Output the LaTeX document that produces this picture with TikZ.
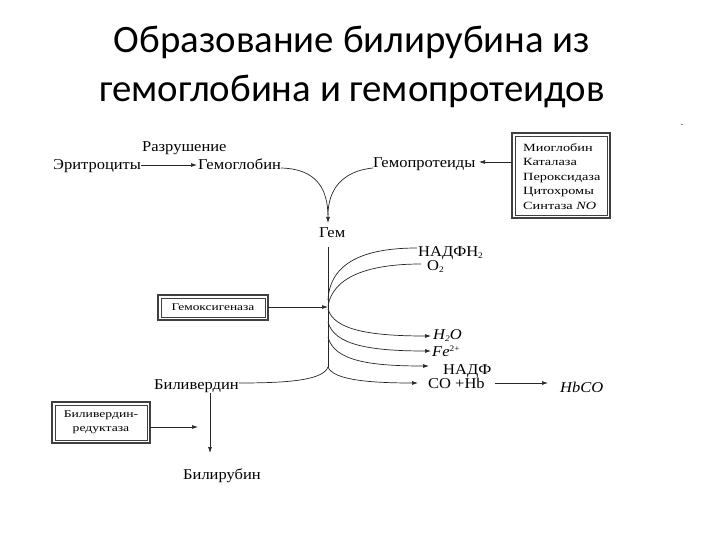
\documentclass[tikz,border=0pt]{standalone}
\usepackage{fontspec}
\setmainfont{Liberation Serif}[FakeStretch=1.1]
\newfontfamily\boxfont{Liberation Serif}[FakeStretch=1.3]
\newfontfamily\titlefont{Carlito}
\usetikzlibrary{arrows.meta}
\newcommand{\mysub}[1]{\raisebox{-2.2pt}{\fontsize{8.5}{9}\selectfont #1}}
\newcommand{\mysup}[1]{\raisebox{4.2pt}{\fontsize{8.5}{9}\selectfont #1}}
\tikzset{
  lbl/.style={inner sep=0pt, anchor=base west, font=\fontsize{15}{17}\selectfont},
  boxlbl/.style={inner sep=0pt, anchor=base west, font=\boxfont\fontsize{11}{13}\selectfont},
  conn/.style={line width=0.7pt, draw=black!85},
  arr/.style={conn, -{Latex[length=6pt,width=4pt]}},
  outerbox/.style={draw=black!75, line width=1.6pt},
  innerbox/.style={draw=black!75, line width=0.5pt},
}
\begin{document}
\begin{tikzpicture}[x=1pt,y=-1pt]
\useasboundingbox (0,0) rectangle (720,540);
% title
\node[inner sep=0pt, anchor=base, font=\titlefont\fontsize{38.8}{46}\selectfont] (t1) at (352,53) {Образование билирубина из};
\node[inner sep=0pt, anchor=base, font=\titlefont\fontsize{38.8}{46}\selectfont] (t2) at (352,102) {гемоглобина и гемопротеидов};
\node[inner sep=0pt, font=\fontsize{7}{8}\selectfont] (dash) at (682,126) {-};

% top row
\node[lbl] (ery) at (53,170) {Эритроциты};
\node[lbl] (razr) at (142,152) {Разрушение};
\node[lbl] (hgb) at (198,170) {Гемоглобин};
\node[lbl] (hpr) at (373,168) {Гемопротеиды};
\node[lbl] (gem) at (319,237) {Гем};

% right box
\draw[outerbox] (512,133) rectangle (610,218);
\draw[innerbox] (515,136) rectangle (607,215);
\coordinate (boxw) at (512,162);
\node[boxlbl] (b1) at (523,152) {Миоглобин};
\node[boxlbl] (b2) at (523,166) {Каталаза};
\node[boxlbl] (b3) at (523,181) {Пероксидаза};
\node[boxlbl] (b4) at (523,195) {Цитохромы};
\node[boxlbl] (b5) at (523,210) {Синтаза \textit{NO}};

% products
\node[lbl] (nadph2) at (418,256) {НАДФН\mysub{2}};
\node[lbl] (o2) at (427,270) {O\mysub{2}};
\node[lbl] (h2o) at (433,339) {\textit{H\mysub{2}O}};
\node[lbl] (fe) at (432,356) {\textit{Fe}\mysup{2+}};
\node[lbl] (nadp) at (443,374) {НАДФ};
\node[lbl] (cohb) at (428,388) {CO +Hb};
\node[lbl] (hbco) at (560,392) {\textit{HbCO}};
\node[lbl] (bv) at (154,389) {Биливердин};
\node[lbl] (br) at (183,479) {Билирубин};

% heme oxygenase box
\draw[outerbox] (158,295) rectangle (268,320);
\draw[innerbox] (161,298) rectangle (265,317);
\node[inner sep=0pt, font=\boxfont\fontsize{10.3}{12}\selectfont] (hox) at (213,307.5) {Гемоксигеназа};
% biliverdin reductase box
\draw[outerbox] (52,402) rectangle (150,443);
\draw[innerbox] (55,405) rectangle (147,440);
\node[inner sep=0pt, align=center, font=\boxfont\fontsize{10.5}{14}\selectfont] (bvr) at (101,422.5) {Биливердин-\\редуктаза};

% coordinates on the main vertical line
\coordinate (vtop) at (328,247);
\coordinate (vbot) at (328,367);
\coordinate (vin) at (328,307);
\coordinate (gemtop) at (328,223);
\coordinate (bvline) at (210,393);
\coordinate (brtop) at (210,453);
\coordinate (bvrend) at (198,427);

% connectors
\draw[arr] (ery.east |- 0,165) -- (197,165);
\draw[arr] (hgb.east |- 0,168) .. controls (316,169) and (328,188) .. (gemtop);
\draw[conn] (hpr.west |- 0,168) .. controls (342,171) and (328,190) .. (328,215);
\draw[arr] (boxw) -- (479,162);
\draw[conn] (vtop) -- (vbot);
\draw[arr] (268,307) -- (vin);
\draw[conn] (328,300) .. controls (330,262) and (365,248) .. (417,248);
\draw[conn] (328,306) .. controls (333,276) and (370,264) .. (421,264);
\draw[arr] (328,309) .. controls (334,330) and (370,336) .. (431,336);
\draw[arr] (328,322) .. controls (334,345) and (370,351) .. (431,351);
\draw[arr] (328,337) .. controls (334,361) and (370,366) .. (429,366);
\draw[arr] (vbot) .. controls (333,380) and (370,383) .. (418,383);
\draw[conn] (vbot) .. controls (323,380) and (290,383) .. (bv.east |- 0,383);
\draw[arr] (495,383) -- (548,383);
\draw[arr] (bvline) -- (brtop);
\draw[arr] (150,427) -- (bvrend);
\end{tikzpicture}
\end{document}
